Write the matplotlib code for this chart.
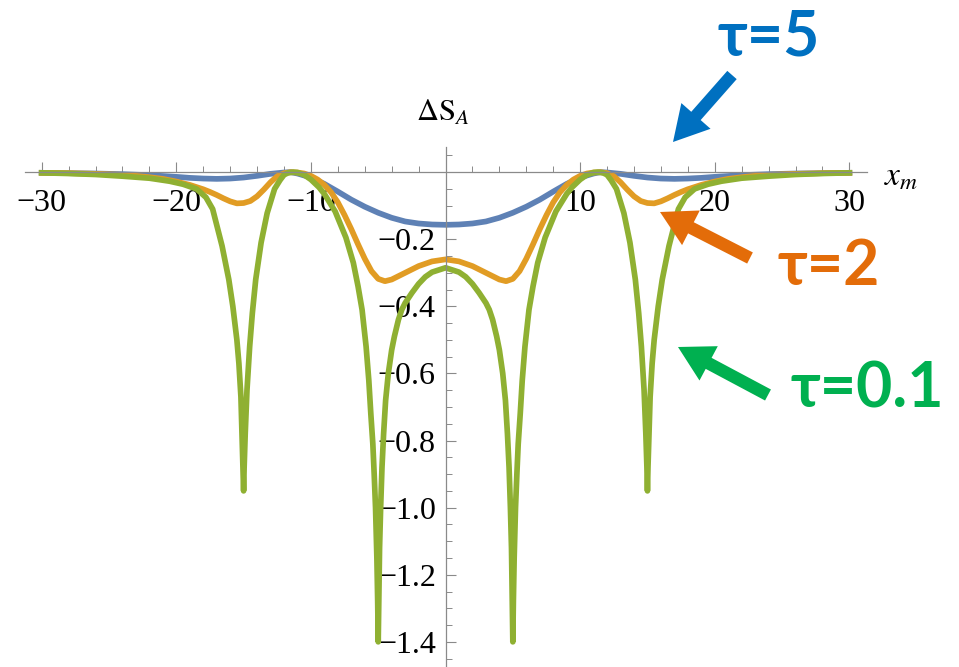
import matplotlib
matplotlib.use("Agg")
import matplotlib.pyplot as plt

plt.rcParams['font.family'] = 'Liberation Serif'
plt.rcParams['mathtext.fontset'] = 'stix'

# valeurs
blue_x = [-30, -28, -26, -24, -22, -20, -19, -18, -17, -16, -15, -14, -13, -12, -11.5, -11,
          -10, -9, -8, -7, -6, -5, -4, -3, -2, -1, 0,
          1, 2, 3, 4, 5, 6, 7, 8, 9, 10,
          11, 11.5, 12, 13, 14, 15, 16, 17, 18, 19, 20, 22, 24, 26, 28, 30]
blue_y = [-0.002, -0.003, -0.004, -0.006, -0.009, -0.014, -0.017, -0.019, -0.020, -0.019, -0.016, -0.011, -0.005, -0.001, 0.0, -0.004,
          -0.016, -0.035, -0.058, -0.082, -0.103, -0.121, -0.136, -0.147, -0.153, -0.156, -0.157,
          -0.156, -0.153, -0.147, -0.136, -0.121, -0.103, -0.082, -0.058, -0.035, -0.016,
          -0.004, 0.0, -0.001, -0.005, -0.011, -0.016, -0.019, -0.020, -0.019, -0.017, -0.014, -0.009, -0.006, -0.004, -0.003, -0.002]

orange_x = [-30, -28, -26, -24, -23, -22, -21, -20, -19, -18, -17.5, -17, -16.5, -16, -15.5, -15, -14.5, -14, -13.5, -13,
            -12.5, -12, -11.5, -11, -10.5, -10, -9.5, -9, -8.5, -8, -7.5, -7, -6.5, -6, -5.5, -5, -4.5, -4, -3, -2, -1,
            0,
            1, 2, 3, 4, 4.5, 5, 5.5, 6, 6.5, 7, 7.5, 8, 8.5, 9, 9.5, 10, 10.5, 11, 11.5, 12, 12.5,
            13, 13.5, 14, 14.5, 15, 15.5, 16, 16.5, 17, 17.5, 18, 19, 20, 21, 22, 23, 24, 26, 28, 30]
orange_y = [-0.002, -0.003, -0.005, -0.008, -0.011, -0.015, -0.020, -0.028, -0.038, -0.051, -0.059, -0.068, -0.078, -0.087, -0.093, -0.092, -0.086, -0.072, -0.052, -0.030,
            -0.012, -0.003, 0.0, -0.001, -0.004, -0.011, -0.022, -0.038, -0.060, -0.090, -0.128, -0.170, -0.215, -0.258, -0.295, -0.318, -0.325, -0.320, -0.300, -0.280, -0.266,
            -0.260,
            -0.266, -0.280, -0.300, -0.320, -0.325, -0.318, -0.295, -0.258, -0.215, -0.170, -0.128, -0.090, -0.060, -0.038, -0.022, -0.011, -0.004, -0.001, 0.0, -0.003, -0.012,
            -0.030, -0.052, -0.072, -0.086, -0.092, -0.093, -0.087, -0.078, -0.068, -0.059, -0.051, -0.038, -0.028, -0.020, -0.015, -0.011, -0.008, -0.005, -0.003, -0.002]

green_x = [-30, -28, -26, -24, -22, -20.5, -19.5, -18.5, -17.8, -17.3, -16.6, -16.1, -15.8, -15.5, -15.35, -15.2, -15.12, -15.04,
           -15.0, -14.96, -14.88, -14.75, -14.55, -14.35, -14.1, -13.7, -13.25, -12.7, -12.3, -12.0, -11.7, -11.3, -11.0, -10.5,
           -10.0, -9.4, -9.0, -8.2, -7.4, -6.85, -6.5, -6.2, -5.9, -5.7, -5.55, -5.4, -5.3, -5.2, -5.1, -5.04, -5.0, -4.96, -4.9,
           -4.82, -4.72, -4.6, -4.45, -4.25, -4.0, -3.8, -3.5, -3.25, -3.0, -2.5, -2.0, -1.5, -1.0,
           0,
           1.0, 1.5, 2.0, 2.5, 3.0, 3.25, 3.5, 3.8, 4.0, 4.25, 4.45, 4.6, 4.72, 4.82, 4.9, 4.96, 5.0, 5.04, 5.1, 5.2, 5.3, 5.4,
           5.55, 5.7, 5.9, 6.2, 6.5, 6.85, 7.4, 8.2, 9.0, 9.4, 10.0, 10.5, 11.0, 11.3, 11.7, 12.0, 12.3, 12.7, 13.25, 13.7, 14.1,
           14.35, 14.55, 14.75, 14.88, 14.96, 15.0, 15.04, 15.12, 15.2, 15.35, 15.5, 15.8, 16.1, 16.6, 17.3, 17.8, 18.5, 19.5,
           20.5, 22, 24, 26, 28, 30]
green_y = [-0.002, -0.004, -0.007, -0.012, -0.018, -0.027, -0.036, -0.05, -0.075, -0.11, -0.22, -0.32, -0.40, -0.50, -0.57, -0.67, -0.78, -0.88,
           -0.95, -0.88, -0.78, -0.65, -0.52, -0.42, -0.32, -0.21, -0.122, -0.05, -0.024, -0.008, -0.002, 0.0, -0.001, -0.008,
           -0.022, -0.045, -0.065, -0.117, -0.195, -0.27, -0.34, -0.41, -0.52, -0.62, -0.72, -0.81, -0.9, -1.0, -1.15, -1.28, -1.40, -1.28, -1.12,
           -1.0, -0.88, -0.78, -0.68, -0.60, -0.53, -0.49, -0.44, -0.41, -0.39, -0.36, -0.333, -0.312, -0.298,
           -0.285,
           -0.298, -0.312, -0.333, -0.36, -0.39, -0.41, -0.44, -0.49, -0.53, -0.60, -0.68, -0.78, -0.88, -1.0, -1.12, -1.28, -1.40, -1.28, -1.15, -1.0, -0.9, -0.81,
           -0.72, -0.62, -0.52, -0.41, -0.34, -0.27, -0.195, -0.117, -0.065, -0.045, -0.022, -0.008, -0.001, 0.0, -0.002, -0.008, -0.024, -0.05, -0.122, -0.21, -0.32,
           -0.42, -0.52, -0.65, -0.78, -0.88, -0.95, -0.88, -0.78, -0.67, -0.57, -0.50, -0.40, -0.32, -0.22, -0.11, -0.075, -0.05, -0.036,
           -0.027, -0.018, -0.012, -0.007, -0.004, -0.002]

x_ticks = [-30, -20, -10, 10, 20, 30]
x_tick_labels = ['\u221230', '\u221220', '\u221210', '10', '20', '30']
y_ticks = [-0.2, -0.4, -0.6, -0.8, -1.0, -1.2, -1.4]
y_tick_labels = ['\u22120.2', '\u22120.4', '\u22120.6', '\u22120.8', '\u22121.0', '\u22121.2', '\u22121.4']
x_minor = [-28, -26, -24, -22, -18, -16, -14, -12, -8, -6, -4, -2, 2, 4, 6, 8, 12, 14, 16, 18, 22, 24, 26, 28]
y_minor = [0.05, -0.05, -0.1, -0.15, -0.25, -0.3, -0.35, -0.45, -0.5, -0.55, -0.65, -0.7, -0.75, -0.85, -0.9, -0.95,
           -1.05, -1.1, -1.15, -1.25, -1.3, -1.35, -1.45]

tau_labels = ['\u03c4=5', '\u03c4=2', '\u03c4=0.1']

c_blue = '#5E81B5'
c_orange = '#E19C24'
c_green = '#8FB032'
gris = '#8a8a8a'

W, H = 959, 667
fig = plt.figure(figsize=(W / 100, H / 100), dpi=100)
ax = fig.add_axes([25 / W, 0, 842 / W, 520 / H])

lw = 4.1
ax.plot(blue_x, blue_y, color=c_blue, lw=lw, solid_joinstyle='round')
ax.plot(orange_x, orange_y, color=c_orange, lw=lw, solid_joinstyle='round')
ax.plot(green_x, green_y, color=c_green, lw=lw, solid_joinstyle='round')

ax.set_xlim(-31.24, 31.31)
ax.set_ylim(-1.475, 0.075)

# axes à la Mathematica : croisées à l'origine
for s in ['top', 'right']:
    ax.spines[s].set_visible(False)
ax.spines['left'].set_position(('data', 0))
ax.spines['bottom'].set_position(('data', 0))
for s in ['left', 'bottom']:
    ax.spines[s].set_color(gris)
    ax.spines[s].set_linewidth(0.9)
ax.set_facecolor('none')

ax.set_xticks(x_ticks)
ax.set_xticklabels(x_tick_labels)
ax.set_xticks(x_minor, minor=True)
ax.set_yticks(y_ticks)
ax.set_yticklabels(y_tick_labels)
ax.set_yticks(y_minor, minor=True)

ax.tick_params(axis='x', which='major', direction='in', length=7.5, width=0.8, color=gris, pad=12, labelsize=23)
ax.tick_params(axis='x', which='minor', direction='in', length=4.5, width=0.7, color=gris)
ax.tick_params(axis='y', which='major', direction='in', length=7.5, width=0.8, color=gris, pad=7, labelsize=23)
ax.tick_params(axis='y', which='minor', direction='in', length=4.5, width=0.7, color=gris)

# libellés des axes
fig.text(443 / W, 1 - 113 / H, r'$\Delta\mathrm{S}_A$', fontsize=22, ha='center', va='center')
fig.text(884 / W, 1 - 177 / H, r'$x_m$', fontsize=24, ha='left', va='center')

# annotations tau
annot = [
    (tau_labels[0], '#0070C0', (769, 55), (732, 75), (673, 142)),
    (tau_labels[1], '#E36C09', (829, 285), (750, 258), (660, 212)),
    (tau_labels[2], '#00B050', (867, 408), (768, 395), (678, 347)),
]
for txt, col, pos, tail, head in annot:
    fig.text(pos[0] / W, 1 - pos[1] / H, txt, color=col, fontsize=45, fontweight='bold',
             family=['Lato', 'DejaVu Sans'], ha='center', va='baseline')
    ax.annotate('', xy=(head[0] / W, 1 - head[1] / H), xytext=(tail[0] / W, 1 - tail[1] / H),
                xycoords='figure fraction', textcoords='figure fraction',
                arrowprops=dict(arrowstyle='simple,head_length=2.5,head_width=2.8,tail_width=0.9',
                                mutation_scale=10, color=col, lw=0, shrinkA=0, shrinkB=0))

fig.savefig('out.png', dpi=100)
